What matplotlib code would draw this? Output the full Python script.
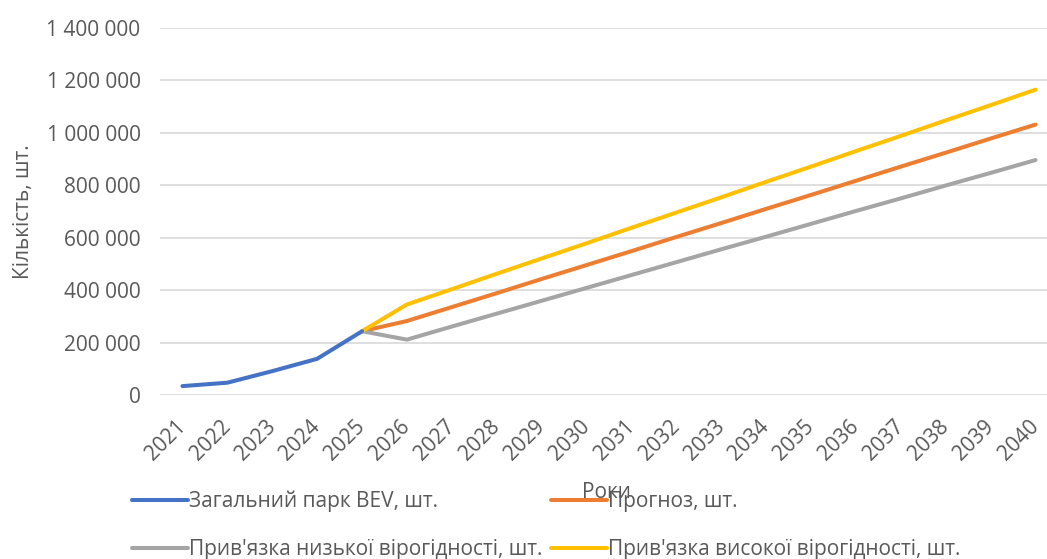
import matplotlib
matplotlib.use("Agg")
import matplotlib.pyplot as plt
from matplotlib.ticker import FuncFormatter

plt.rcParams['font.family'] = ['Open Sans', 'DejaVu Sans']

# Роки та значення рядів
years = list(range(2021, 2041))
fleet_years = [2021, 2022, 2023, 2024, 2025]
fleet = [35000, 48000, 92000, 139000, 244000]

forecast_years = list(range(2025, 2041))
forecast = [244000, 283000, 336000, 389000, 443000, 496000, 549000, 603000,
            656000, 710000, 763000, 817000, 871000, 924000, 978000, 1031000]
low = [244000, 212000, 262000, 311000, 360000, 409000, 458000, 507000,
       556000, 604000, 653000, 702000, 750000, 799000, 847000, 896000]
high = [244000, 346000, 404000, 463000, 521000, 579000, 638000, 696000,
        754000, 813000, 871000, 930000, 988000, 1047000, 1105000, 1164000]

labels = ["Загальний парк BEV, шт.", "Прогноз, шт.",
          "Прив'язка низької вірогідності, шт.", "Прив'язка високої вірогідності, шт."]
colors = ["#4472C4", "#ED7D31", "#A5A5A5", "#FFC000"]
yticks = [0, 200000, 400000, 600000, 800000, 1000000, 1200000, 1400000]

text_color = "#595959"

fig = plt.figure(figsize=(10.47, 5.59), dpi=100)
ax = fig.add_axes([160 / 1047, 1 - 395.3 / 559, 898 / 1047, 367.6 / 559])

lw = 2.9
ax.plot(fleet_years, fleet, color=colors[0], lw=lw, solid_capstyle='round', label=labels[0], zorder=3)
ax.plot(forecast_years, forecast, color=colors[1], lw=lw, solid_capstyle='round', label=labels[1], zorder=2)
ax.plot(forecast_years, low, color=colors[2], lw=lw, solid_capstyle='round', label=labels[2], zorder=2)
ax.plot(forecast_years, high, color=colors[3], lw=lw, solid_capstyle='round', label=labels[3], zorder=2)

ax.set_xlim(2020.5, 2040.5)
ax.set_ylim(0, 1400000)
ax.set_yticks(yticks)
ax.yaxis.set_major_formatter(FuncFormatter(lambda v, p: f"{int(v):,}".replace(",", " ")))
ax.set_xticks(years)
ax.set_xticklabels([str(y) for y in years], rotation=45, ha='right', va='center',
                   rotation_mode='anchor')

for s in ax.spines.values():
    s.set_visible(False)
ax.grid(axis='y', color="#D9D9D9", lw=1.2)
ax.set_axisbelow(True)
ax.tick_params(axis='both', length=0, labelsize=15, labelcolor=text_color)
ax.tick_params(axis='y', pad=14)
ax.tick_params(axis='x', pad=20)

ax.set_ylabel("Кількість, шт.", fontsize=15, color=text_color, labelpad=9)
fig.text(607 / 1047, 1 - 492 / 559, "Роки", fontsize=15, color=text_color, ha='center', va='center')

# легенда заповнюється по рядках: порядок для двох колонок
handles, lbls = ax.get_legend_handles_labels()
order = [0, 2, 1, 3]
leg = fig.legend([handles[i] for i in order], [lbls[i] for i in order], ncol=2, loc='upper left',
                 bbox_to_anchor=(113 / 1047, 1 - 472 / 559),
                 frameon=False, fontsize=15, labelcolor=text_color, handlelength=2.7,
                 handletextpad=0.05, columnspacing=0.4, labelspacing=1.28)

fig.savefig("out.png", dpi=100)
